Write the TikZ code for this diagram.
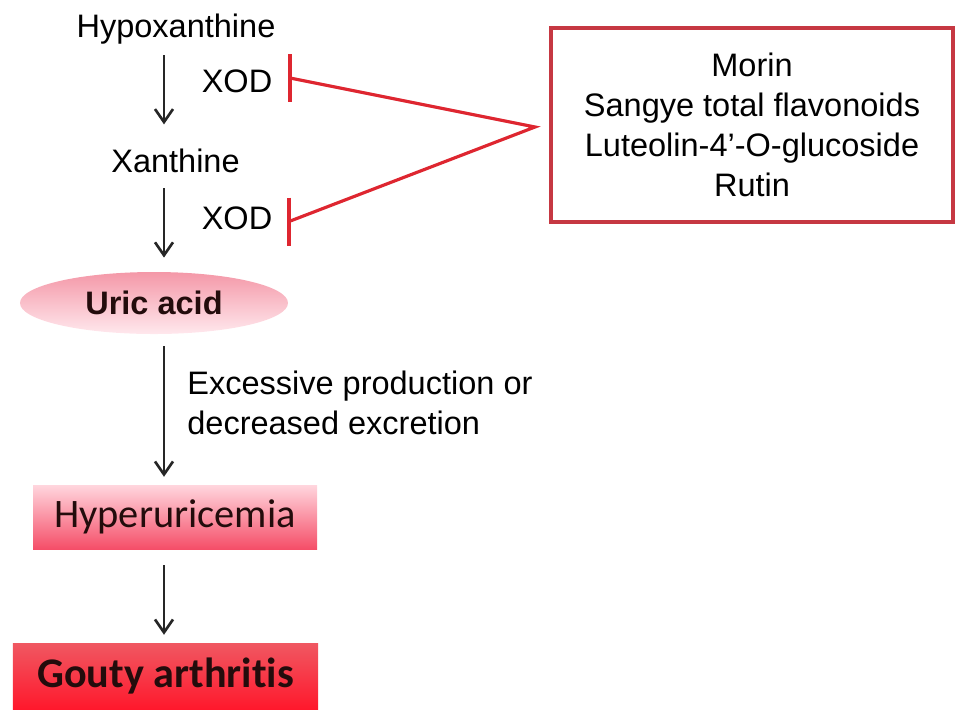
\documentclass[tikz,border=0pt]{standalone}
\usepackage{fontspec}
\setmainfont{Liberation Sans}
\newfontfamily\calibrifont[Ligatures=NoCommon]{Carlito}
\usetikzlibrary{arrows.meta, shapes.geometric, positioning, calc}
\definecolor{inhred}{RGB}{222,38,48}
\definecolor{boxred}{RGB}{198,56,66}
\definecolor{darktxt}{RGB}{35,12,12}

\begin{document}
\begin{tikzpicture}[>={Straight Barb[length=2.6mm,width=3.6mm]},
    txt/.style={font=\fontsize{18.5}{22.5}\selectfont, inner sep=4pt},
    flow/.style={->, line width=1.5pt, black!85},
    inhibit/.style={line width=1.8pt, inhred},
    drugbox/.style={txt, draw=boxred, line width=2pt, align=center,
      minimum width=8.04cm, minimum height=3.88cm,
      font=\fontsize{18.5}{22.7}\selectfont},
    uricshape/.style={ellipse, inner sep=0pt, minimum width=5.36cm, minimum height=1.24cm,
      top color={rgb,255:red,244;green,152;blue,168}, bottom color={rgb,255:red,255;green,232;blue,237},
      font=\fontsize{18.5}{22}\selectfont\bfseries, text=darktxt},
    hyperbox/.style={rectangle, inner sep=0pt, minimum width=5.68cm, minimum height=1.28cm,
      top color={rgb,255:red,255;green,214;blue,222}, bottom color={rgb,255:red,245;green,78;blue,104},
      font=\fontsize{23}{26}\selectfont\calibrifont, text=darktxt},
    goutbox/.style={rectangle, inner sep=0pt, minimum width=6.1cm, minimum height=1.32cm,
      top color={rgb,255:red,240;green,88;blue,98}, bottom color={rgb,255:red,255;green,24;blue,44},
      font=\fontsize{24}{27}\selectfont\calibrifont\bfseries, text=darktxt}
  ]
  \useasboundingbox (0,0) rectangle (19.38,-14.48);

  \coordinate (col) at (3.28,0);

  \node[txt, anchor=base] (hypo) at (3.52,-0.74) {Hypoxanthine};
  \node[txt, anchor=base] (xan) at (3.51,-3.44) {Xanthine};
  \node[uricshape] (uric) at (3.08,-6.06) {Uric acid};
  \node[hyperbox] (hyper) at (3.5,-10.34) {Hyperuricemia};
  \node[goutbox] (gout) at (3.31,-13.52) {Gouty arthritis};

  \node[txt, anchor=base] (xod1) at (4.74,-1.84) {XOD};
  \node[txt, anchor=base] (xod2) at (4.74,-4.58) {XOD};
  \node[txt, anchor=west, align=left, inner sep=0pt] (cause) at (3.74,-8.06)
    {Excessive production or\\decreased excretion};

  \node[drugbox] (drugs) at (15.04,-2.5)
    {Morin\\Sangye total flavonoids\\Luteolin-4'-O-glucoside\\Rutin};

  \draw[flow, shorten <=2.3pt, shorten >=9.5pt] (hypo.south -| col) -- (xan.north -| col);
  \draw[flow, shorten <=5pt, shorten >=8pt] (xan.south -| col) -- (uric.north -| col);
  \draw[flow, shorten <=6.8pt, shorten >=4.5pt] (uric.south -| col) -- (hyper.north -| col);
  \draw[flow, shorten <=9pt, shorten >=4.5pt] (hyper.south -| col) -- (gout.north -| col);

  \coordinate (inh1) at (5.8,-1.56);
  \coordinate (inh2) at (5.78,-4.43);
  \coordinate (apex) at (10.7,-2.54);
  \draw[inhibit] ([yshift=0.48cm]inh1) -- ([yshift=-0.48cm]inh1);
  \draw[inhibit] ([yshift=0.48cm]inh2) -- ([yshift=-0.48cm]inh2);
  \draw[inhibit, line join=miter] (inh1) -- (apex) -- (inh2);
\end{tikzpicture}
\end{document}
